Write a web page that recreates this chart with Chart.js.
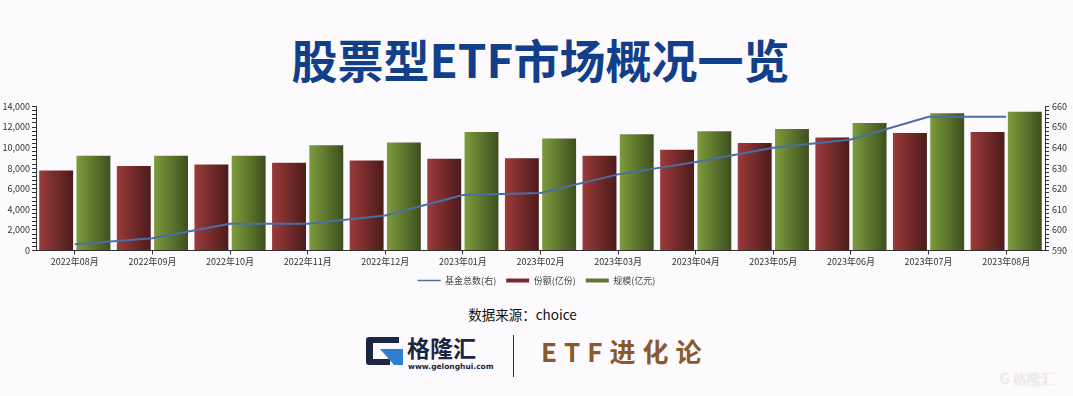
<!DOCTYPE html>
<html>
<head>
<meta charset="utf-8">
<script src="https://cdn.jsdelivr.net/npm/chart.js@4/dist/chart.umd.min.js"></script>
<style>
  html, body { margin: 0; padding: 0; }
  body { width: 1073px; height: 396px; background: #fcfafc; position: relative; overflow: hidden; font-family: "Noto Sans CJK SC", "Noto Sans", sans-serif; }
  #title { position: absolute; left: 4px; top: 26px; width: 1073px; text-align: center; font-size: 46px; font-weight: bold; color: #123f8a; line-height: 64px; }
  #chartWrap { position: absolute; left: 0; top: 95px; width: 1073px; height: 200px; }
  #source { position: absolute; left: -14px; top: 304px; width: 1073px; text-align: center; font-size: 13.5px; color: #111; line-height: 20px; }
  #logo { position: absolute; left: 366px; top: 337px; width: 37px; height: 28px; }
  #glh { position: absolute; left: 407px; top: 332px; font-size: 23px; font-weight: bold; color: #1b2642; line-height: 30px; letter-spacing: 0px; }
  #www { position: absolute; left: 408px; top: 362px; font-size: 7.5px; font-weight: bold; color: #1b2642; line-height: 10px; font-family: "DejaVu Sans", sans-serif; }
  #vline { position: absolute; left: 513px; top: 335px; width: 1px; height: 42px; background: #1b2a5a; }
  #etf { position: absolute; left: 541px; top: 335px; font-size: 26px; font-weight: bold; color: #8a5a2e; line-height: 32px; letter-spacing: 7px; }
  #wm { position: absolute; left: 1000px; top: 368px; font-size: 14px; color: #f2eff2; line-height: 20px; text-shadow: 0 0 1px #d0ccd0; }
</style>
</head>
<body>
<div id="title">股票型ETF市场概况一览</div>
<div id="chartWrap"><canvas id="c" width="1073" height="200"></canvas></div>
<div id="source">数据来源：choice</div>
<svg id="logo" viewBox="0 0 37 28">
  <path d="M0 3 Q0 0 3 0 L33 0 L33 6 L7 6 L7 22 L24 22 L24 28 L3 28 Q0 28 0 25 Z" fill="#1b2642"/>
  <path d="M14 12 L37 12 L37 28 L28 28 Z" fill="#2e7fd0"/>
</svg>
<div id="glh">格隆汇</div>
<div id="www">www.gelonghui.com</div>
<div id="vline"></div>
<div id="etf">ETF进化论</div>
<div id="wm">G 格隆汇</div>
<script>
const categories = ['2022年08月','2022年09月','2022年10月','2022年11月','2022年12月','2023年01月','2023年02月','2023年03月','2023年04月','2023年05月','2023年06月','2023年07月','2023年08月'];
const fundCount = [593, 596, 603, 603, 607, 617, 618, 627, 633, 640, 644, 655, 655];
const shares = [7780, 8210, 8360, 8530, 8750, 8910, 8980, 9200, 9790, 10440, 10980, 11430, 11530];
const scale = [9200, 9200, 9200, 10240, 10490, 11530, 10880, 11300, 11600, 11820, 12400, 13340, 13500];
const seriesNames = ['基金总数(右)', '份额(亿份)', '规模(亿元)'];
const leftTicks = { min: 0, max: 14000, step: 400, labelEvery: 2000 };
const rightTicks = { min: 590, max: 660, step: 2, labelEvery: 10 };

const CAT_PCT = 0.96, BAR_PCT = 0.91;
const FONT = '"Noto Sans CJK SC", "Noto Sans", sans-serif';

function barGradient(cLeft, cRight, side) {
  return (ctx) => {
    const chart = ctx.chart;
    const xs = chart.scales.x;
    if (!xs || ctx.dataIndex === undefined || !chart.chartArea) return cLeft;
    const n = chart.data.labels.length;
    const catW = xs.width / n;
    const slot = catW * CAT_PCT / 2;
    const barW = slot * BAR_PCT;
    const center = xs.getPixelForValue(ctx.dataIndex);
    const left = side === 0 ? center - slot + (slot - barW) / 2 : center + (slot - barW) / 2;
    const g = chart.ctx.createLinearGradient(left, 0, left + barW, 0);
    g.addColorStop(0, cLeft);
    g.addColorStop(1, cRight);
    return g;
  };
}

const legendColors = ['#4a6fa5', '#7a2a2a', '#5f7a2e'];

new Chart(document.getElementById('c'), {
  data: {
    labels: categories,
    datasets: [
      { type: 'line', label: seriesNames[0], data: fundCount, yAxisID: 'y1', borderColor: '#4a6fa5', backgroundColor: '#4a6fa5', borderWidth: 2, pointRadius: 0, tension: 0, order: 0, pointStyle: 'line' },
      { type: 'bar', label: seriesNames[1], data: shares, yAxisID: 'y', backgroundColor: barGradient('#9c3a3a', '#4c1b1b', 0), categoryPercentage: CAT_PCT, barPercentage: BAR_PCT, order: 1 },
      { type: 'bar', label: seriesNames[2], data: scale, yAxisID: 'y', backgroundColor: barGradient('#7d9c3c', '#3d4f1f', 1), categoryPercentage: CAT_PCT, barPercentage: BAR_PCT, order: 1 }
    ]
  },
  options: {
    responsive: false,
    animation: false,
    maintainAspectRatio: false,
    layout: { padding: { top: 11.5, left: 0, right: 0, bottom: 0 } },
    plugins: {
      tooltip: { enabled: false },
      legend: {
        position: 'bottom',
        labels: {
          usePointStyle: true,
          pointStyleWidth: 23,
          boxHeight: 4,
          padding: 10,
          color: '#444',
          font: { family: FONT, size: 9 },
          generateLabels(chart) {
            const items = Chart.defaults.plugins.legend.labels.generateLabels(chart);
            items.forEach((it, i) => {
              it.fillStyle = legendColors[i];
              it.strokeStyle = legendColors[i];
              it.pointStyle = i === 0 ? 'line' : 'rect';
              it.lineWidth = i === 0 ? 1.5 : 0;
            });
            return items;
          }
        }
      }
    },
    scales: {
      x: {
        offset: true,
        grid: { offset: false, drawOnChartArea: false, drawTicks: true, tickLength: 4, tickColor: '#333' },
        border: { display: true, color: '#333', width: 1 },
        ticks: { color: '#333', font: { family: FONT, size: 9 }, maxRotation: 0, autoSkip: false, padding: 2 },
        afterFit(s) { s.height = 15.5; }
      },
      y: {
        position: 'left',
        min: leftTicks.min, max: leftTicks.max,
        grid: { drawOnChartArea: false, drawTicks: true, tickLength: 4, tickColor: '#333' },
        border: { display: true, color: '#333', width: 1 },
        ticks: {
          stepSize: leftTicks.step, autoSkip: false, maxTicksLimit: 100, padding: 2,
          color: '#333', font: { family: FONT, size: 9 },
          callback: (v) => (v % leftTicks.labelEvery === 0 ? v.toLocaleString('en-US') : '')
        },
        afterFit(s) { s.width = 36; }
      },
      y1: {
        position: 'right',
        min: rightTicks.min, max: rightTicks.max,
        grid: { drawOnChartArea: false, drawTicks: true, tickLength: 4, tickColor: '#333' },
        border: { display: true, color: '#333', width: 1 },
        ticks: {
          stepSize: rightTicks.step, autoSkip: false, maxTicksLimit: 100, padding: 3,
          color: '#333', font: { family: FONT, size: 9 },
          callback: (v) => (v % rightTicks.labelEvery === 0 ? String(v) : '')
        },
        afterFit(s) { s.width = 28; }
      }
    }
  }
});
</script>
</body>
</html>
